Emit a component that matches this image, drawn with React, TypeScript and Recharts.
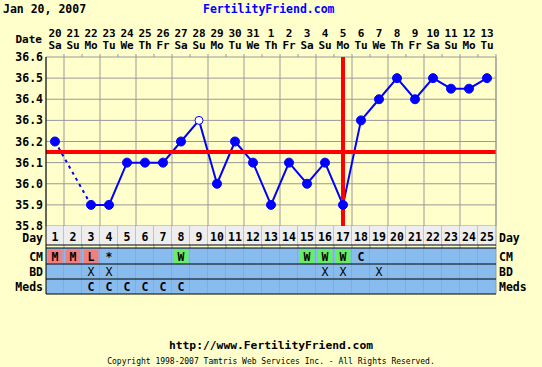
import React from 'react'
import { ComposedChart, Line, XAxis, YAxis, CartesianGrid, ReferenceLine } from 'recharts'

// cycle days and calendar labels
const days = [1, 2, 3, 4, 5, 6, 7, 8, 9, 10, 11, 12, 13, 14, 15, 16, 17, 18, 19, 20, 21, 22, 23, 24, 25]
const dates = ['20', '21', '22', '23', '24', '25', '26', '27', '28', '29', '30', '31', '1', '2', '3', '4', '5', '6', '7', '8', '9', '10', '11', '12', '13']
const weekdays = ['Sa', 'Su', 'Mo', 'Tu', 'We', 'Th', 'Fr', 'Sa', 'Su', 'Mo', 'Tu', 'We', 'Th', 'Fr', 'Sa', 'Su', 'Mo', 'Tu', 'We', 'Th', 'Fr', 'Sa', 'Su', 'Mo', 'Tu']

// BBT readings (°C), null = no reading
const temps = [36.2, null, 35.9, 35.9, 36.1, 36.1, 36.1, 36.2, 36.3, 36.0, 36.2, 36.1, 35.9, 36.1, 36.0, 36.1, 35.9, 36.3, 36.4, 36.5, 36.4, 36.5, 36.45, 36.45, 36.5]
const discardedDays = [9]
const coverline = 36.15
const ovulationDay = 17
const yTicks = [35.8, 35.9, 36.0, 36.1, 36.2, 36.3, 36.4, 36.5, 36.6]

// table rows
const cm = ['M', 'M', 'L', '*', '', '', '', 'W', '', '', '', '', '', '', 'W', 'W', 'W', 'C', '', '', '', '', '', '', '']
const bd = ['', '', 'X', 'X', '', '', '', '', '', '', '', '', '', '', '', 'X', 'X', '', 'X', '', '', '', '', '', '']
const meds = ['', '', 'C', 'C', 'C', 'C', 'C', 'C', '', '', '', '', '', '', '', '', '', '', '', '', '', '', '', '', '']

const cmColors: Record<string, string> = { M: '#f08080', L: '#f08080', W: '#66ee66' }

const FONT = '"DejaVu Sans Mono", monospace'
const BG = '#ffffcc'
const BLUE_CELL = '#88bbee'

// gap bridging: endpoints around missing readings get a dashed connector
const bridge = temps.map((t, i) => {
  if (t == null) return null
  const prevGap = i > 0 && temps[i - 1] == null
  const nextGap = i < temps.length - 1 && temps[i + 1] == null
  return prevGap || nextGap ? t : null
})

const data = days.map((d, i) => ({ day: d, temp: temps[i], bridge: bridge[i] }))
const gridTicks = [0.5, ...days.map(d => d + 0.5)]

function DateTick(props: any) {
  const { x, y, index } = props
  const colW = (props.width ?? 450) / days.length
  const txt = { fontFamily: FONT, fontSize: 11, fontWeight: 'bold', fill: '#000' }
  return (
    <g>
      {index === 0 && (
        <text x={x - colW / 2 - 4} y={y - 14} textAnchor="end" {...txt}>Date</text>
      )}
      <text x={x} y={y - 20} textAnchor="middle" {...txt}>{dates[index]}</text>
      <text x={x} y={y - 8} textAnchor="middle" {...txt}>{weekdays[index]}</text>
      <line x1={x + colW / 2} x2={x + colW / 2} y1={y - 3} y2={y} stroke="#999" />
    </g>
  )
}

function TableTick(props: any) {
  const { x, y, index } = props
  const colW = (props.width ?? 450) / days.length
  const left = x - colW / 2
  const right = x + colW / 2
  const last = index === days.length - 1
  const rows = [
    { label: 'CM', top: 22, h: 16, val: cm[index] },
    { label: 'BD', top: 38, h: 15, val: bd[index] },
    { label: 'Meds', top: 53, h: 15, val: meds[index] },
  ]
  const txt = { fontFamily: FONT, fontSize: 11.5, fill: '#000' }
  return (
    <g>
      <rect x={left} y={y} width={colW} height={19} fill="#eeeeee" />
      <text x={x} y={y + 15} textAnchor="middle" {...txt} fontWeight="bold">{days[index]}</text>
      {rows.map(r => {
        const c = r.label === 'CM' ? cmColors[r.val] : undefined
        return (
          <g key={r.label}>
            <rect x={left} y={y + r.top} width={colW} height={r.h} fill={BLUE_CELL} />
            {c && <rect x={left + 1.5} y={y + r.top + 1.5} width={colW - 3} height={r.h - 2.5} fill={c} />}
            {r.val && (
              <text x={x} y={y + r.top + r.h - 3.5} textAnchor="middle" {...txt} fontWeight={r.val === 'X' ? 'normal' : 'bold'}>{r.val}</text>
            )}
            {index === 0 && (
              <text x={left - 3} y={y + r.top + r.h - 3.5} textAnchor="end" {...txt} fontWeight="bold">{r.label}</text>
            )}
            {last && (
              <text x={right + 3} y={y + r.top + r.h - 3.5} textAnchor="start" {...txt} fontWeight="bold">{r.label}</text>
            )}
          </g>
        )
      })}
      {index === 0 && <text x={left - 3} y={y + 16} textAnchor="end" {...txt} fontWeight="bold">Day</text>}
      {last && <text x={right + 3} y={y + 16} textAnchor="start" {...txt} fontWeight="bold">Day</text>}
      <line x1={right} x2={right} y1={y} y2={y + 68} stroke="#999" />
      {[19, 22, 38, 53, 68].map(o => (
        <line key={o} x1={left} x2={right} y1={y + o} y2={y + o} stroke="#000" />
      ))}
      {index === 0 && <line x1={left} x2={left} y1={y} y2={y + 68} stroke="#000" />}
    </g>
  )
}

function TempDot(props: any) {
  const { cx, cy, value, payload, index } = props
  if (value == null || cx == null || cy == null) return <g key={index} />
  const open = discardedDays.includes(payload.day)
  return (
    <circle key={index} cx={cx} cy={cy} r={open ? 4 : 4.5} fill={open ? '#ffffff' : '#0000ff'} stroke="#0000ff" strokeWidth={1} />
  )
}

export default function App() {
  return (
    <div style={{ position: 'absolute', left: 0, top: 0, width: 542, height: 367, background: BG, fontFamily: FONT }}>
      <div style={{ position: 'absolute', left: 3, top: 2, fontSize: 11.5, fontWeight: 'bold', color: '#000' }}>Jan 20, 2007</div>
      <div style={{ position: 'absolute', left: 203, top: 2, fontSize: 11.5, fontWeight: 'bold', color: '#0000ff' }}>FertilityFriend.com</div>
      <ComposedChart width={542} height={367} data={data} margin={{ top: 0, right: 0, bottom: 0, left: 0 }} style={{ position: 'absolute', left: 0, top: 0 }}>
        <XAxis xAxisId="grid" dataKey="day" type="number" domain={[0.5, 25.5]} ticks={gridTicks} hide />
        <XAxis
          xAxisId="dates"
          orientation="top"
          dataKey="day"
          type="number"
          domain={[0.5, 25.5]}
          ticks={days}
          interval={0}
          height={57}
          tickSize={0}
          tickMargin={0}
          axisLine={false}
          tick={<DateTick />}
        />
        <XAxis
          xAxisId="days"
          dataKey="day"
          type="number"
          domain={[0.5, 25.5]}
          ticks={days}
          interval={0}
          height={141}
          tickSize={0}
          tickMargin={0}
          axisLine={false}
          tick={<TableTick />}
        />
        <YAxis
          yAxisId="left"
          type="number"
          domain={[35.8, 36.6]}
          ticks={yTicks}
          interval={0}
          width={46}
          tickSize={0}
          tickMargin={3}
          tickFormatter={(v: number) => v.toFixed(1)}
          tick={{ fill: '#000', fontFamily: FONT, fontSize: 11.5, fontWeight: 'bold' }}
          axisLine={{ stroke: '#000' }}
        />
        <YAxis
          yAxisId="right"
          orientation="right"
          type="number"
          domain={[35.8, 36.6]}
          ticks={yTicks}
          interval={0}
          width={46}
          tickSize={0}
          tickMargin={3}
          tickFormatter={(v: number) => v.toFixed(1)}
          tick={{ fill: '#000', fontFamily: FONT, fontSize: 11.5, fontWeight: 'bold' }}
          axisLine={{ stroke: '#999' }}
        />
        <CartesianGrid xAxisId="grid" yAxisId="left" stroke="#999" strokeWidth={1} fill={BG} />
        <Line
          xAxisId="grid"
          yAxisId="left"
          dataKey="bridge"
          stroke="#0000ff"
          strokeWidth={2}
          strokeDasharray="3 4"
          connectNulls
          dot={false}
          isAnimationActive={false}
        />
        <Line
          xAxisId="grid"
          yAxisId="left"
          dataKey="temp"
          stroke="#0000ff"
          strokeWidth={2}
          dot={<TempDot />}
          activeDot={false}
          isAnimationActive={false}
        />
        <ReferenceLine xAxisId="grid" yAxisId="left" y={coverline} stroke="#ff0000" strokeWidth={4} />
        <ReferenceLine xAxisId="grid" yAxisId="left" x={ovulationDay} stroke="#ff0000" strokeWidth={4} />
      </ComposedChart>
      <div style={{ position: 'absolute', left: 0, width: 542, top: 339, textAlign: 'center', fontSize: 11.3, fontWeight: 'bold', color: '#000' }}>
        http://www.FertilityFriend.com
      </div>
      <div style={{ position: 'absolute', left: 0, width: 542, top: 357, textAlign: 'center', fontSize: 8, color: '#000' }}>
        Copyright 1998-2007 Tamtris Web Services Inc. - All Rights Reserved.
      </div>
    </div>
  )
}
